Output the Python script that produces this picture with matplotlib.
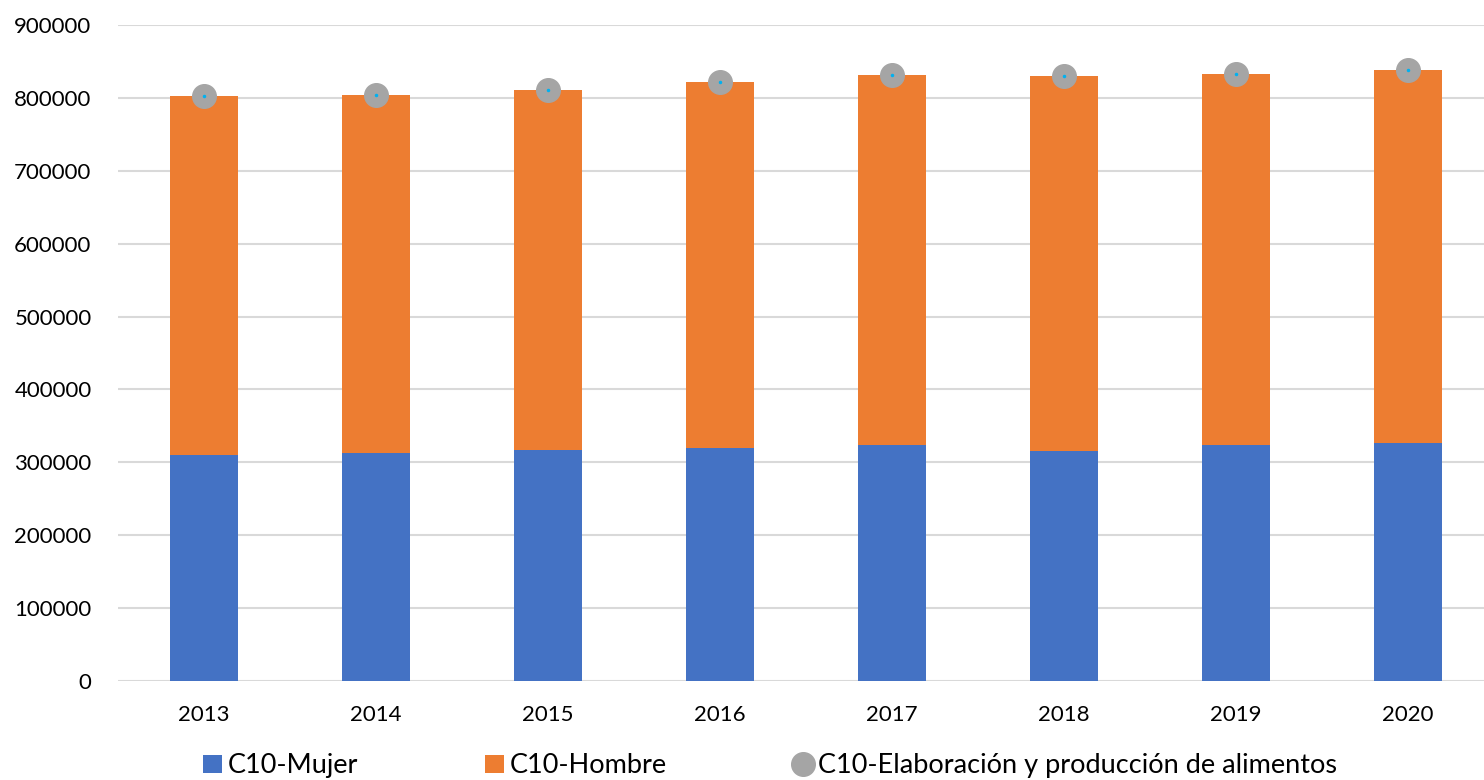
import numpy as np
import matplotlib.pyplot as plt

years = ['2013', '2014', '2015', '2016', '2017', '2018', '2019', '2020']
mujer = [310400, 313200, 317300, 320000, 323300, 315900, 324200, 326000]
total = [802300, 803800, 811100, 822100, 831300, 830300, 832600, 838100]
hombre = [t - m for t, m in zip(total, mujer)]

plt.rcParams['font.family'] = ['Lato', 'DejaVu Sans']

fig = plt.figure(figsize=(14.84, 7.8), dpi=100)
ax = fig.add_axes([118/1484, 1-681/780, 1376/1484, 656/780])

x = np.arange(len(years))
b1 = ax.bar(x, mujer, 0.4, color='#4472c4', label='C10-Mujer', zorder=2)
b2 = ax.bar(x, hombre, 0.4, bottom=mujer, color='#ed7d31', label='C10-Hombre', zorder=2)
l1, = ax.plot(x, total, linestyle='none', marker='o', ms=17, color='#a5a5a5',
              label='C10-Elaboración y producción de alimentos', zorder=3)
ax.plot(x, total, linestyle='none', marker='o', ms=1.5, color='#00b0f0', zorder=4)

ax.set_xlim(-0.5, 7.5)
ax.set_ylim(0, 900000)
ax.set_yticks(np.arange(0, 900001, 100000))
ax.set_xticks(x)
ax.set_xticklabels(years)
ax.grid(axis='y', color='#d9d9d9', lw=1.5, zorder=0)
ax.set_axisbelow(True)
for s in ax.spines.values():
    s.set_visible(False)
ax.tick_params(axis='both', length=0, labelsize=16, colors='black')
ax.tick_params(axis='y', pad=19)
ax.tick_params(axis='x', pad=17)

fig.legend(handles=[b1, b2, l1], loc='center', bbox_to_anchor=(0.519, 0.018),
           ncol=3, frameon=False, fontsize=19.5, handlelength=0.7, handleheight=0.7,
           handletextpad=0.2, columnspacing=4.7, borderaxespad=0)

fig.savefig('out.png', dpi=100)
